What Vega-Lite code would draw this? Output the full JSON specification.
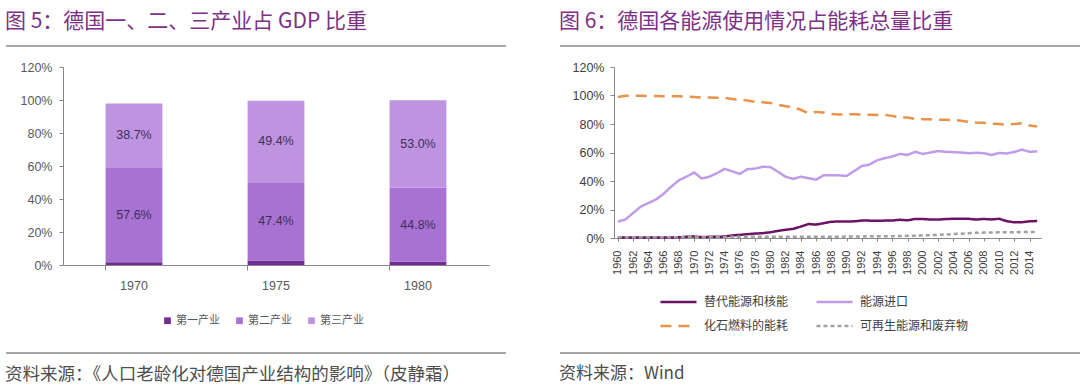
{
  "$schema": "https://vega.github.io/schema/vega-lite/v6.json",
  "padding": {"left": 5, "top": 11, "right": 2, "bottom": 0},
  "background": "white",
  "spacing": 0,
  "config": {
    "view": {"stroke": null},
    "font": "Liberation Sans",
    "axis": {"grid": false, "domainColor": "#868686", "tickColor": "#868686", "labelColor": "#404040", "labelFont": "Liberation Sans", "title": null}
  },
  "datasets": {
    "blank": [{}],
    "gdp": [
      {"year": "1970", "sector": "第一产业", "idx": 1, "share": 0.016},
      {"year": "1970", "sector": "第二产业", "idx": 2, "share": 0.576},
      {"year": "1970", "sector": "第三产业", "idx": 3, "share": 0.387},
      {"year": "1975", "sector": "第一产业", "idx": 1, "share": 0.028},
      {"year": "1975", "sector": "第二产业", "idx": 2, "share": 0.474},
      {"year": "1975", "sector": "第三产业", "idx": 3, "share": 0.494},
      {"year": "1980", "sector": "第一产业", "idx": 1, "share": 0.02},
      {"year": "1980", "sector": "第二产业", "idx": 2, "share": 0.448},
      {"year": "1980", "sector": "第三产业", "idx": 3, "share": 0.53}
    ],
    "energy": [
      {"year":1960,"series":"替代能源和核能","share":0.003},{"year":1961,"series":"替代能源和核能","share":0.003},{"year":1962,"series":"替代能源和核能","share":0.003},{"year":1963,"series":"替代能源和核能","share":0.003},{"year":1964,"series":"替代能源和核能","share":0.003},{"year":1965,"series":"替代能源和核能","share":0.003},{"year":1966,"series":"替代能源和核能","share":0.004},{"year":1967,"series":"替代能源和核能","share":0.004},{"year":1968,"series":"替代能源和核能","share":0.005},{"year":1969,"series":"替代能源和核能","share":0.009},
      {"year":1970,"series":"替代能源和核能","share":0.010},{"year":1971,"series":"替代能源和核能","share":0.006},{"year":1972,"series":"替代能源和核能","share":0.008},{"year":1973,"series":"替代能源和核能","share":0.009},{"year":1974,"series":"替代能源和核能","share":0.010},{"year":1975,"series":"替代能源和核能","share":0.018},{"year":1976,"series":"替代能源和核能","share":0.022},{"year":1977,"series":"替代能源和核能","share":0.027},{"year":1978,"series":"替代能源和核能","share":0.031},{"year":1979,"series":"替代能源和核能","share":0.034},
      {"year":1980,"series":"替代能源和核能","share":0.040},{"year":1981,"series":"替代能源和核能","share":0.050},{"year":1982,"series":"替代能源和核能","share":0.058},{"year":1983,"series":"替代能源和核能","share":0.064},{"year":1984,"series":"替代能源和核能","share":0.080},{"year":1985,"series":"替代能源和核能","share":0.098},{"year":1986,"series":"替代能源和核能","share":0.094},{"year":1987,"series":"替代能源和核能","share":0.104},{"year":1988,"series":"替代能源和核能","share":0.114},{"year":1989,"series":"替代能源和核能","share":0.116},
      {"year":1990,"series":"替代能源和核能","share":0.115},{"year":1991,"series":"替代能源和核能","share":0.117},{"year":1992,"series":"替代能源和核能","share":0.122},{"year":1993,"series":"替代能源和核能","share":0.122},{"year":1994,"series":"替代能源和核能","share":0.121},{"year":1995,"series":"替代能源和核能","share":0.122},{"year":1996,"series":"替代能源和核能","share":0.123},{"year":1997,"series":"替代能源和核能","share":0.128},{"year":1998,"series":"替代能源和核能","share":0.124},{"year":1999,"series":"替代能源和核能","share":0.134},
      {"year":2000,"series":"替代能源和核能","share":0.133},{"year":2001,"series":"替代能源和核能","share":0.130},{"year":2002,"series":"替代能源和核能","share":0.129},{"year":2003,"series":"替代能源和核能","share":0.133},{"year":2004,"series":"替代能源和核能","share":0.135},{"year":2005,"series":"替代能源和核能","share":0.135},{"year":2006,"series":"替代能源和核能","share":0.135},{"year":2007,"series":"替代能源和核能","share":0.129},{"year":2008,"series":"替代能源和核能","share":0.134},{"year":2009,"series":"替代能源和核能","share":0.130},
      {"year":2010,"series":"替代能源和核能","share":0.135},{"year":2011,"series":"替代能源和核能","share":0.118},{"year":2012,"series":"替代能源和核能","share":0.110},{"year":2013,"series":"替代能源和核能","share":0.111},{"year":2014,"series":"替代能源和核能","share":0.117},{"year":2015,"series":"替代能源和核能","share":0.119},

      {"year":1960,"series":"能源进口","share":0.115},{"year":1961,"series":"能源进口","share":0.13},{"year":1962,"series":"能源进口","share":0.175},{"year":1963,"series":"能源进口","share":0.22},{"year":1964,"series":"能源进口","share":0.245},{"year":1965,"series":"能源进口","share":0.27},{"year":1966,"series":"能源进口","share":0.31},{"year":1967,"series":"能源进口","share":0.36},{"year":1968,"series":"能源进口","share":0.405},{"year":1969,"series":"能源进口","share":0.43},
      {"year":1970,"series":"能源进口","share":0.46},{"year":1971,"series":"能源进口","share":0.418},{"year":1972,"series":"能源进口","share":0.43},{"year":1973,"series":"能源进口","share":0.455},{"year":1974,"series":"能源进口","share":0.485},{"year":1975,"series":"能源进口","share":0.468},{"year":1976,"series":"能源进口","share":0.45},{"year":1977,"series":"能源进口","share":0.483},{"year":1978,"series":"能源进口","share":0.487},{"year":1979,"series":"能源进口","share":0.50},
      {"year":1980,"series":"能源进口","share":0.498},{"year":1981,"series":"能源进口","share":0.465},{"year":1982,"series":"能源进口","share":0.43},{"year":1983,"series":"能源进口","share":0.415},{"year":1984,"series":"能源进口","share":0.43},{"year":1985,"series":"能源进口","share":0.42},{"year":1986,"series":"能源进口","share":0.41},{"year":1987,"series":"能源进口","share":0.44},{"year":1988,"series":"能源进口","share":0.44},{"year":1989,"series":"能源进口","share":0.44},
      {"year":1990,"series":"能源进口","share":0.435},{"year":1991,"series":"能源进口","share":0.47},{"year":1992,"series":"能源进口","share":0.505},{"year":1993,"series":"能源进口","share":0.515},{"year":1994,"series":"能源进口","share":0.545},{"year":1995,"series":"能源进口","share":0.56},{"year":1996,"series":"能源进口","share":0.572},{"year":1997,"series":"能源进口","share":0.59},{"year":1998,"series":"能源进口","share":0.583},{"year":1999,"series":"能源进口","share":0.605},
      {"year":2000,"series":"能源进口","share":0.59},{"year":2001,"series":"能源进口","share":0.60},{"year":2002,"series":"能源进口","share":0.61},{"year":2003,"series":"能源进口","share":0.605},{"year":2004,"series":"能源进口","share":0.602},{"year":2005,"series":"能源进口","share":0.60},{"year":2006,"series":"能源进口","share":0.595},{"year":2007,"series":"能源进口","share":0.598},{"year":2008,"series":"能源进口","share":0.595},{"year":2009,"series":"能源进口","share":0.583},
      {"year":2010,"series":"能源进口","share":0.597},{"year":2011,"series":"能源进口","share":0.593},{"year":2012,"series":"能源进口","share":0.604},{"year":2013,"series":"能源进口","share":0.62},{"year":2014,"series":"能源进口","share":0.605},{"year":2015,"series":"能源进口","share":0.608},

      {"year":1960,"series":"化石燃料的能耗","share":0.99},{"year":1961,"series":"化石燃料的能耗","share":0.998},{"year":1962,"series":"化石燃料的能耗","share":0.998},{"year":1963,"series":"化石燃料的能耗","share":0.998},{"year":1964,"series":"化石燃料的能耗","share":0.997},{"year":1965,"series":"化石燃料的能耗","share":0.996},{"year":1966,"series":"化石燃料的能耗","share":0.995},{"year":1967,"series":"化石燃料的能耗","share":0.994},{"year":1968,"series":"化石燃料的能耗","share":0.994},{"year":1969,"series":"化石燃料的能耗","share":0.993},
      {"year":1970,"series":"化石燃料的能耗","share":0.99},{"year":1971,"series":"化石燃料的能耗","share":0.985},{"year":1972,"series":"化石燃料的能耗","share":0.986},{"year":1973,"series":"化石燃料的能耗","share":0.985},{"year":1974,"series":"化石燃料的能耗","share":0.983},{"year":1975,"series":"化石燃料的能耗","share":0.975},{"year":1976,"series":"化石燃料的能耗","share":0.97},{"year":1977,"series":"化石燃料的能耗","share":0.965},{"year":1978,"series":"化石燃料的能耗","share":0.956},{"year":1979,"series":"化石燃料的能耗","share":0.952},
      {"year":1980,"series":"化石燃料的能耗","share":0.948},{"year":1981,"series":"化石燃料的能耗","share":0.935},{"year":1982,"series":"化石燃料的能耗","share":0.925},{"year":1983,"series":"化石燃料的能耗","share":0.917},{"year":1984,"series":"化石燃料的能耗","share":0.90},{"year":1985,"series":"化石燃料的能耗","share":0.875},{"year":1986,"series":"化石燃料的能耗","share":0.885},{"year":1987,"series":"化石燃料的能耗","share":0.88},{"year":1988,"series":"化石燃料的能耗","share":0.87},{"year":1989,"series":"化石燃料的能耗","share":0.867},
      {"year":1990,"series":"化石燃料的能耗","share":0.868},{"year":1991,"series":"化石燃料的能耗","share":0.868},{"year":1992,"series":"化石燃料的能耗","share":0.867},{"year":1993,"series":"化石燃料的能耗","share":0.865},{"year":1994,"series":"化石燃料的能耗","share":0.864},{"year":1995,"series":"化石燃料的能耗","share":0.863},{"year":1996,"series":"化石燃料的能耗","share":0.857},{"year":1997,"series":"化石燃料的能耗","share":0.845},{"year":1998,"series":"化石燃料的能耗","share":0.845},{"year":1999,"series":"化石燃料的能耗","share":0.835},
      {"year":2000,"series":"化石燃料的能耗","share":0.834},{"year":2001,"series":"化石燃料的能耗","share":0.833},{"year":2002,"series":"化石燃料的能耗","share":0.83},{"year":2003,"series":"化石燃料的能耗","share":0.83},{"year":2004,"series":"化石燃料的能耗","share":0.828},{"year":2005,"series":"化石燃料的能耗","share":0.823},{"year":2006,"series":"化石燃料的能耗","share":0.815},{"year":2007,"series":"化石燃料的能耗","share":0.81},{"year":2008,"series":"化石燃料的能耗","share":0.808},{"year":2009,"series":"化石燃料的能耗","share":0.803},
      {"year":2010,"series":"化石燃料的能耗","share":0.80},{"year":2011,"series":"化石燃料的能耗","share":0.795},{"year":2012,"series":"化石燃料的能耗","share":0.80},{"year":2013,"series":"化石燃料的能耗","share":0.805},{"year":2014,"series":"化石燃料的能耗","share":0.79},{"year":2015,"series":"化石燃料的能耗","share":0.782},

      {"year":1960,"series":"可再生能源和废弃物","share":0.006},{"year":1961,"series":"可再生能源和废弃物","share":0.006},{"year":1962,"series":"可再生能源和废弃物","share":0.006},{"year":1963,"series":"可再生能源和废弃物","share":0.006},{"year":1964,"series":"可再生能源和废弃物","share":0.006},{"year":1965,"series":"可再生能源和废弃物","share":0.006},{"year":1966,"series":"可再生能源和废弃物","share":0.006},{"year":1967,"series":"可再生能源和废弃物","share":0.006},{"year":1968,"series":"可再生能源和废弃物","share":0.006},{"year":1969,"series":"可再生能源和废弃物","share":0.006},
      {"year":1970,"series":"可再生能源和废弃物","share":0.006},{"year":1971,"series":"可再生能源和废弃物","share":0.006},{"year":1972,"series":"可再生能源和废弃物","share":0.006},{"year":1973,"series":"可再生能源和废弃物","share":0.006},{"year":1974,"series":"可再生能源和废弃物","share":0.006},{"year":1975,"series":"可再生能源和废弃物","share":0.008},{"year":1976,"series":"可再生能源和废弃物","share":0.008},{"year":1977,"series":"可再生能源和废弃物","share":0.008},{"year":1978,"series":"可再生能源和废弃物","share":0.008},{"year":1979,"series":"可再生能源和废弃物","share":0.008},
      {"year":1980,"series":"可再生能源和废弃物","share":0.008},{"year":1981,"series":"可再生能源和废弃物","share":0.008},{"year":1982,"series":"可再生能源和废弃物","share":0.008},{"year":1983,"series":"可再生能源和废弃物","share":0.008},{"year":1984,"series":"可再生能源和废弃物","share":0.008},{"year":1985,"series":"可再生能源和废弃物","share":0.008},{"year":1986,"series":"可再生能源和废弃物","share":0.008},{"year":1987,"series":"可再生能源和废弃物","share":0.008},{"year":1988,"series":"可再生能源和废弃物","share":0.008},{"year":1989,"series":"可再生能源和废弃物","share":0.008},
      {"year":1990,"series":"可再生能源和废弃物","share":0.010},{"year":1991,"series":"可再生能源和废弃物","share":0.010},{"year":1992,"series":"可再生能源和废弃物","share":0.011},{"year":1993,"series":"可再生能源和废弃物","share":0.012},{"year":1994,"series":"可再生能源和废弃物","share":0.012},{"year":1995,"series":"可再生能源和废弃物","share":0.013},{"year":1996,"series":"可再生能源和废弃物","share":0.013},{"year":1997,"series":"可再生能源和废弃物","share":0.014},{"year":1998,"series":"可再生能源和废弃物","share":0.015},{"year":1999,"series":"可再生能源和废弃物","share":0.016},
      {"year":2000,"series":"可再生能源和废弃物","share":0.018},{"year":2001,"series":"可再生能源和废弃物","share":0.020},{"year":2002,"series":"可再生能源和废弃物","share":0.022},{"year":2003,"series":"可再生能源和废弃物","share":0.025},{"year":2004,"series":"可再生能源和废弃物","share":0.028},{"year":2005,"series":"可再生能源和废弃物","share":0.030},{"year":2006,"series":"可再生能源和废弃物","share":0.033},{"year":2007,"series":"可再生能源和废弃物","share":0.036},{"year":2008,"series":"可再生能源和废弃物","share":0.038},{"year":2009,"series":"可再生能源和废弃物","share":0.038},
      {"year":2010,"series":"可再生能源和废弃物","share":0.040},{"year":2011,"series":"可再生能源和废弃物","share":0.040},{"year":2012,"series":"可再生能源和废弃物","share":0.040},{"year":2013,"series":"可再生能源和废弃物","share":0.042},{"year":2014,"series":"可再生能源和废弃物","share":0.041},{"year":2015,"series":"可再生能源和废弃物","share":0.043}
    ]
  },
  "vconcat": [
    {
      "spacing": 52,
      "hconcat": [
        {
          "width": 443, "height": 15,
          "data": {"name": "blank"},
          "title": {"text": "图 5：德国一、二、三产业占 GDP 比重", "anchor": "start", "fontSize": 21, "font": "Noto Sans CJK SC", "fontWeight": "normal", "color": "#7E2F86", "offset": 13},
          "mark": {"type": "rule", "color": "#A6A6A6", "strokeWidth": 2},
          "encoding": {
            "x": {"datum": -57, "type": "quantitative", "scale": {"domain": [0, 443]}, "axis": null},
            "x2": {"datum": 443},
            "y": {"datum": 1, "type": "quantitative", "scale": {"domain": [0, 1]}, "axis": null}
          }
        },
        {
          "width": 465, "height": 15,
          "data": {"name": "blank"},
          "title": {"text": "图 6：德国各能源使用情况占能耗总量比重", "anchor": "start", "fontSize": 21, "font": "Noto Sans CJK SC", "fontWeight": "normal", "color": "#7E2F86", "offset": 13},
          "mark": {"type": "rule", "color": "#A6A6A6", "strokeWidth": 2},
          "encoding": {
            "x": {"datum": -56, "type": "quantitative", "scale": {"domain": [0, 465]}, "axis": null},
            "x2": {"datum": 465},
            "y": {"datum": 1, "type": "quantitative", "scale": {"domain": [0, 1]}, "axis": null}
          }
        }
      ]
    },
    {
      "spacing": 69,
      "hconcat": [
        {
          "width": 426, "height": 198,
          "data": {"name": "gdp"},
          "encoding": {
            "x": {"field": "year", "type": "nominal", "scale": {"paddingInner": 0.6, "paddingOuter": 0.3},
                  "axis": {"labelAngle": 0, "labelFontSize": 12.5, "labelColor": "#595959", "labelPadding": 9, "tickSize": 5, "bandPosition": 0}},
            "y": {"field": "share", "type": "quantitative", "stack": "zero", "scale": {"domain": [0, 1.2]},
                  "axis": {"values": [0, 0.2, 0.4, 0.6, 0.8, 1.0, 1.2], "format": ".0%", "labelFontSize": 12.5, "labelColor": "#595959", "tickSize": 4, "labelPadding": 7, "minExtent": 57}},
            "order": {"field": "idx", "type": "quantitative"}
          },
          "layer": [
            {
              "mark": {"type": "bar"},
              "encoding": {
                "color": {"field": "sector", "type": "nominal",
                          "scale": {"domain": ["第一产业", "第二产业", "第三产业"], "range": ["#6F2C91", "#A872D3", "#BE93DF"]},
                          "legend": {"orient": "none", "legendX": 99, "legendY": 248, "direction": "horizontal", "title": null, "symbolType": "square", "symbolSize": 45, "symbolStrokeWidth": 0, "labelFontSize": 11, "labelFont": "Noto Sans CJK SC", "labelColor": "#595959", "labelOffset": 3, "columnPadding": 14}}
              }
            },
            {
              "mark": {"type": "text", "fontSize": 12.5, "color": "#3D2F5A", "font": "Liberation Sans"},
              "encoding": {
                "y": {"field": "share", "type": "quantitative", "stack": "zero", "bandPosition": 0.5},
                "detail": {"field": "sector"},
                "text": {"field": "share", "type": "quantitative", "format": ".1%"},
                "opacity": {"condition": {"test": "datum.idx === 1", "value": 0}, "value": 1}
              }
            }
          ]
        },
        {
          "width": 427, "height": 171,
          "data": {"name": "energy"},
          "mark": {"type": "line"},
          "encoding": {
            "x": {"field": "year", "type": "quantitative", "scale": {"domain": [1959.5, 2015.5], "nice": false, "zero": false},
                  "axis": {"values": [1960,1962,1964,1966,1968,1970,1972,1974,1976,1978,1980,1982,1984,1986,1988,1990,1992,1994,1996,1998,2000,2002,2004,2006,2008,2010,2012,2014], "format": "d", "labelAngle": -90, "labelFontSize": 11, "labelColor": "#404040", "tickSize": 3, "labelPadding": 9}},
            "y": {"field": "share", "type": "quantitative", "scale": {"domain": [0, 1.2]},
                  "axis": {"values": [0, 0.2, 0.4, 0.6, 0.8, 1.0, 1.2], "format": ".0%", "labelFontSize": 12.5, "labelColor": "#404040", "tickSize": 4, "labelPadding": 6, "minExtent": 56}},
            "color": {"field": "series", "type": "nominal",
                      "scale": {"domain": ["替代能源和核能", "能源进口", "化石燃料的能耗", "可再生能源和废弃物"], "range": ["#6B1465", "#C09CE8", "#E9924A", "#A0A0A0"]},
                      "legend": {"orient": "none", "legendX": 45, "legendY": 228, "direction": "horizontal", "columns": 2, "gridAlign": "each", "title": null, "symbolType": "stroke", "symbolSize": 1300, "symbolStrokeWidth": 2.5, "labelFontSize": 12, "labelFont": "Noto Sans CJK SC", "labelColor": "#404040", "labelOffset": 6, "columnPadding": 26, "rowPadding": 10, "clipHeight": 14}},
            "strokeDash": {"field": "series", "type": "nominal",
                           "scale": {"domain": ["替代能源和核能", "能源进口", "化石燃料的能耗", "可再生能源和废弃物"], "range": [[1, 0], [1, 0], [11, 7], [4, 3]]},
                           "legend": {"orient": "none", "legendX": 45, "legendY": 228, "direction": "horizontal", "columns": 2, "gridAlign": "each", "title": null, "symbolType": "stroke", "symbolSize": 1300, "symbolStrokeWidth": 2.5, "labelFontSize": 12, "labelFont": "Noto Sans CJK SC", "labelColor": "#404040", "labelOffset": 6, "columnPadding": 26, "rowPadding": 10, "clipHeight": 14}},
            "strokeWidth": {"value": 2.5}
          }
        }
      ],
      "resolve": {"scale": {"color": "independent", "strokeDash": "independent"}, "legend": {"color": "independent", "strokeDash": "independent"}}
    },
    {
      "spacing": 52,
      "hconcat": [
        {
          "width": 443, "height": 20,
          "data": {"name": "blank"},
          "title": {"text": "资料来源：《人口老龄化对德国产业结构的影响》（皮静霜）", "orient": "bottom", "anchor": "start", "fontSize": 17.5, "font": "Noto Sans CJK SC", "fontWeight": "normal", "color": "#4D4D4D", "offset": 12},
          "mark": {"type": "rule", "color": "#A6A6A6", "strokeWidth": 2},
          "encoding": {
            "x": {"datum": -57, "type": "quantitative", "scale": {"domain": [0, 443]}, "axis": null},
            "x2": {"datum": 443},
            "y": {"datum": 0, "type": "quantitative", "scale": {"domain": [0, 1]}, "axis": null}
          }
        },
        {
          "width": 465, "height": 20,
          "data": {"name": "blank"},
          "title": {"text": "资料来源：Wind", "orient": "bottom", "anchor": "start", "fontSize": 17, "font": "Noto Sans CJK SC", "fontWeight": "normal", "color": "#4D4D4D", "offset": 12},
          "mark": {"type": "rule", "color": "#A6A6A6", "strokeWidth": 2},
          "encoding": {
            "x": {"datum": -56, "type": "quantitative", "scale": {"domain": [0, 465]}, "axis": null},
            "x2": {"datum": 465},
            "y": {"datum": 0, "type": "quantitative", "scale": {"domain": [0, 1]}, "axis": null}
          }
        }
      ]
    }
  ]
}
